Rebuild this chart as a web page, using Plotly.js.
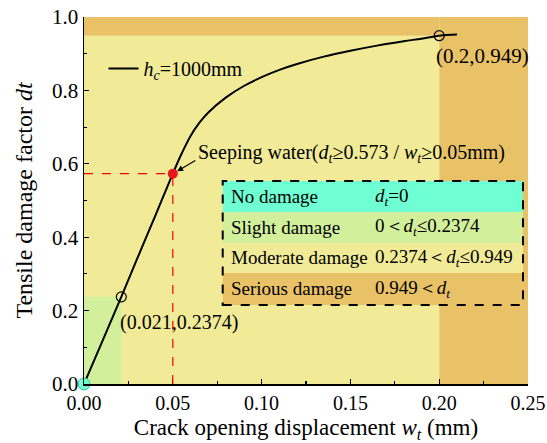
<!DOCTYPE html>
<html><head><meta charset="utf-8">
<script src="https://cdn.plot.ly/plotly-3.0.1.min.js"></script>
<style>body{margin:0;padding:0;background:#fff}#chart{width:547px;height:443px}</style>
</head><body><div id="chart"></div>
<script>
// Curve data: crack opening displacement (mm) vs tensile damage factor
const wt = [0, 0.010, 0.021, 0.030, 0.040, 0.050, 0.055, 0.060, 0.065, 0.070, 0.080, 0.090, 0.100, 0.110, 0.120, 0.135, 0.150, 0.165, 0.180, 0.190, 0.200, 0.210];
const dt = [0, 0.113, 0.2374, 0.342, 0.457, 0.573, 0.628, 0.676, 0.712, 0.740, 0.781, 0.812, 0.836, 0.856, 0.872, 0.892, 0.908, 0.922, 0.934, 0.941, 0.949, 0.952];
// Key points
const keyW = [0.021, 0.2];
const keyD = [0.2374, 0.949];
const keyLabels = ['(0.021,0.2374)', '(0.2,0.949)'];
const seepW = [0.05];
const seepD = [0.573];
const originW = [0];
const originD = [0];
// Damage thresholds
const slightW = 0.021, slightD = 0.2374, seriousW = 0.2, seriousD = 0.949;
const xMax = 0.25, yMax = 1.0;
// Table
const rowLabels = ['No damage', 'Slight damage', 'Moderate damage', 'Serious damage'];
const rowRanges = ['<i>d</i><sub><i>t</i></sub>=0', '0＜<i>d</i><sub><i>t</i></sub>≤0.2374', '0.2374＜<i>d</i><sub><i>t</i></sub>≤0.949', '0.949＜<i>d</i><sub><i>t</i></sub>'];

const C_CYAN = '#6effd2', C_GREEN = '#d2f09c', C_YELLOW = '#f1eb98', C_ORANGE = '#e9c267';
const rowColors = [C_CYAN, C_GREEN, C_YELLOW, C_ORANGE];
const FONT = '"Liberation Serif", "Times New Roman", serif';

const traces = [
  {x: wt, y: dt, mode: 'lines', line: {color: '#000', width: 2, shape: 'spline', smoothing: 1}, name: '<i>h<sub>c</sub></i>=1000mm', showlegend: true},
  {x: keyW, y: keyD, mode: 'markers', marker: {symbol: 'circle-open', size: 10, color: '#000', line: {width: 1.2}}, showlegend: false},
  {x: seepW, y: seepD, mode: 'markers', marker: {size: 10, color: '#e8161b'}, showlegend: false},
  {x: originW, y: originD, mode: 'markers', marker: {size: 12, color: C_CYAN, line: {color: '#3bbf95', width: 1}}, showlegend: false, cliponaxis: false}
];

const shapes = [
  {type: 'rect', layer: 'below', xref: 'x', yref: 'y', x0: 0, x1: seriousW, y0: 0, y1: seriousD, fillcolor: C_YELLOW, line: {width: 0}},
  {type: 'rect', layer: 'below', xref: 'x', yref: 'y', x0: seriousW, x1: xMax, y0: 0, y1: yMax, fillcolor: C_ORANGE, line: {width: 0}},
  {type: 'rect', layer: 'below', xref: 'x', yref: 'y', x0: 0, x1: seriousW, y0: seriousD, y1: yMax, fillcolor: C_ORANGE, line: {width: 0}},
  {type: 'rect', layer: 'below', xref: 'x', yref: 'y', x0: 0, x1: slightW, y0: 0, y1: slightD, fillcolor: C_GREEN, line: {width: 0}},
  {type: 'line', xref: 'x', yref: 'y', x0: 0, x1: seepW[0], y0: seepD[0], y1: seepD[0], line: {color: '#ff0000', width: 1.2, dash: 'dash'}},
  {type: 'line', xref: 'x', yref: 'y', x0: seepW[0], x1: seepW[0], y0: 0, y1: seepD[0], line: {color: '#ff0000', width: 1.2, dash: 'dash'}}
];

// table geometry (paper coords)
const tx0 = 0.3124, tx1 = 0.9887;
const rowEdges = [0.553, 0.4687, 0.3842, 0.3025, 0.2153];
rowColors.forEach((c, i) => {
  shapes.push({type: 'rect', xref: 'paper', yref: 'paper', x0: tx0, x1: tx1, y0: rowEdges[i + 1], y1: rowEdges[i], fillcolor: c, line: {width: 0}});
});
shapes.push({type: 'rect', xref: 'paper', yref: 'paper', x0: tx0, x1: tx1, y0: rowEdges[4], y1: rowEdges[0], fillcolor: 'rgba(0,0,0,0)', line: {color: '#000', width: 2, dash: 'dash'}});

const annotations = [
  {x: keyW[0], y: keyD[0], xref: 'x', yref: 'y', text: keyLabels[0], showarrow: false, xanchor: 'left', yanchor: 'top', xshift: -3, yshift: -12, font: {family: FONT, size: 20, color: '#000'}},
  {x: keyW[1], y: keyD[1], xref: 'x', yref: 'y', text: keyLabels[1], showarrow: false, xanchor: 'left', yanchor: 'top', xshift: -5, yshift: -6, font: {family: FONT, size: 21, color: '#000'}},
  {x: seepW[0], y: seepD[0], xref: 'x', yref: 'y', ax: 24, ay: -14, axref: 'pixel', ayref: 'pixel', text: '', showarrow: true, arrowhead: 2, arrowsize: 1, arrowwidth: 1.2, arrowcolor: '#000', standoff: 5},
  {x: (196 - 84) / 444, y: (384 - 153) / 367, xref: 'paper', yref: 'paper', text: 'Seeping water(<i>d</i><sub><i>t</i></sub>≥0.573 / <i>w</i><sub><i>t</i></sub>≥0.05mm)', showarrow: false, xanchor: 'left', yanchor: 'middle', font: {family: FONT, size: 20, color: '#000'}}
];
const rowCenters = rowEdges.slice(0, 4).map((e, i) => (e + rowEdges[i + 1]) / 2);
rowLabels.forEach((t, i) => {
  annotations.push({x: 0.3266, y: rowCenters[i], xref: 'paper', yref: 'paper', text: t, showarrow: false, xanchor: 'left', yanchor: 'middle', font: {family: FONT, size: 19, color: '#000'}});
  annotations.push({x: 0.651, y: rowCenters[i], xref: 'paper', yref: 'paper', text: rowRanges[i], showarrow: false, xanchor: 'left', yanchor: 'middle', font: {family: FONT, size: 19, color: '#000'}});
});

const layout = {
  width: 547, height: 443,
  margin: {l: 84, r: 19, t: 17, b: 59},
  paper_bgcolor: '#fff', plot_bgcolor: '#fff',
  font: {family: FONT, size: 20, color: '#000'},
  showlegend: true,
  legend: {x: 0.044, y: 0.86, xanchor: 'left', yanchor: 'middle', bgcolor: 'rgba(0,0,0,0)', font: {family: FONT, size: 20}, itemwidth: 30},
  xaxis: {
    range: [0, xMax], tickvals: [0, 0.05, 0.1, 0.15, 0.2, 0.25], tickformat: '.2f',
    ticks: 'inside', ticklen: 5, tickwidth: 1.2, tickcolor: '#000',
    minor: {dtick: 0.025, ticks: 'inside', ticklen: 3, tickcolor: '#000'},
    showline: true, linecolor: '#000', linewidth: 1.5, showgrid: false, zeroline: false, mirror: false,
    tickfont: {family: FONT, size: 20},
    title: {text: 'Crack opening displacement <i>w</i><sub><i>t</i></sub> (mm)', font: {family: FONT, size: 23}, standoff: 6}
  },
  yaxis: {
    range: [0, yMax], tickvals: [0, 0.2, 0.4, 0.6, 0.8, 1.0], tickformat: '.1f',
    ticks: 'inside', ticklen: 5, tickwidth: 1.2, tickcolor: '#000',
    minor: {dtick: 0.1, ticks: 'inside', ticklen: 3, tickcolor: '#000'},
    showline: true, linecolor: '#000', linewidth: 1.5, showgrid: false, zeroline: false, mirror: false,
    tickfont: {family: FONT, size: 21},
    title: {text: 'Tensile damage factor <i>dt</i>', font: {family: FONT, size: 24}, standoff: 12}
  },
  shapes: shapes,
  annotations: annotations
};
Plotly.newPlot('chart', traces, layout, {displayModeBar: false, staticPlot: true});
</script></body></html>
